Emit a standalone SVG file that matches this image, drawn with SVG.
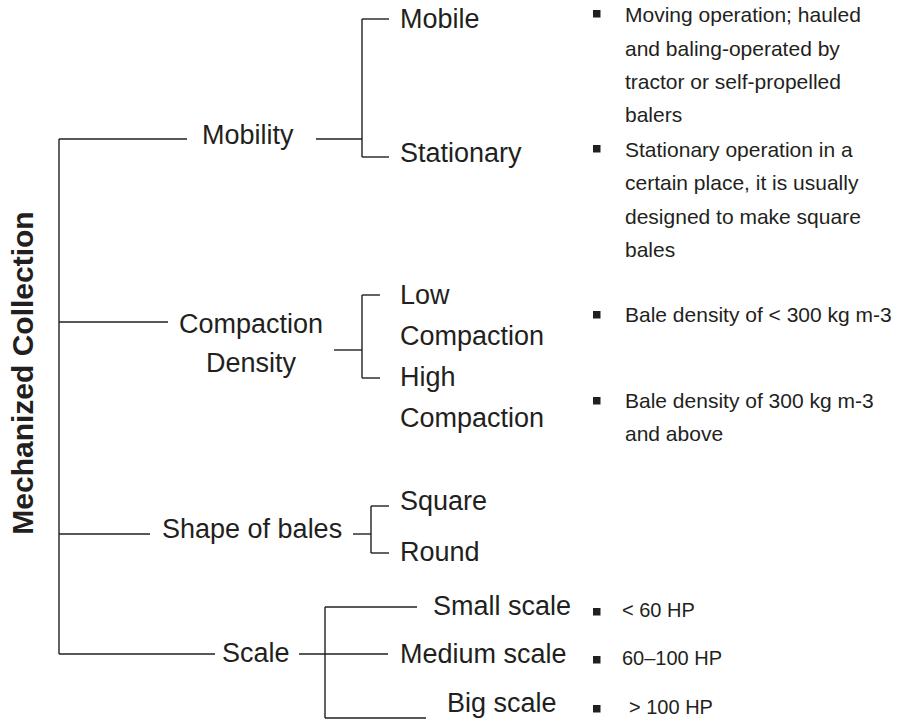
<svg xmlns="http://www.w3.org/2000/svg" width="899" height="726" viewBox="0 0 899 726" font-family="'Liberation Sans', Arial, Helvetica, sans-serif">
<style>
text{font-family:"Liberation Sans",Arial,Helvetica,sans-serif;fill:#231f20}
.lbl{font-size:27px}
.note{font-size:21px}
.hp{font-size:20px}
.title{font-size:30px;font-weight:bold}
.conn line{stroke:#231f20;stroke-width:1.4;fill:none}
.bullet{fill:#231f20}
</style>
<rect width="899" height="726" fill="#ffffff"/>
<g id="connectors" class="conn">
<line x1="59" y1="139" x2="59" y2="654"/>
<line x1="59" y1="139" x2="187" y2="139"/>
<line x1="59" y1="322" x2="168" y2="322"/>
<line x1="59" y1="534" x2="150" y2="534"/>
<line x1="59" y1="654" x2="215" y2="654"/>
<line x1="316" y1="139" x2="362" y2="139"/>
<line x1="362" y1="19" x2="362" y2="157"/>
<line x1="362" y1="19" x2="389" y2="19"/>
<line x1="362" y1="157" x2="389" y2="157"/>
<line x1="334" y1="350" x2="362" y2="350"/>
<line x1="362" y1="295" x2="362" y2="378"/>
<line x1="362" y1="295" x2="380" y2="295"/>
<line x1="362" y1="378" x2="380" y2="378"/>
<line x1="353" y1="534" x2="371" y2="534"/>
<line x1="371" y1="506" x2="371" y2="553"/>
<line x1="371" y1="506" x2="389" y2="506"/>
<line x1="371" y1="553" x2="389" y2="553"/>
<line x1="299" y1="654" x2="388" y2="654"/>
<line x1="325" y1="607" x2="325" y2="718"/>
<line x1="325" y1="607" x2="417" y2="607"/>
<line x1="325" y1="718" x2="426" y2="718"/>
</g>
<g id="root"><text class="title" transform="translate(33,373) rotate(-90)" text-anchor="middle">Mechanized Collection</text></g>
<g id="mobility"><text class="lbl" x="202" y="144">Mobility</text></g>
<g id="compaction"><text class="lbl" x="251" y="333" text-anchor="middle">Compaction</text><text class="lbl" x="251" y="372" text-anchor="middle">Density</text></g>
<g id="shape"><text class="lbl" x="162" y="538">Shape of bales</text></g>
<g id="scale"><text class="lbl" x="222" y="662">Scale</text></g>
<g id="mobile"><text class="lbl" x="400" y="28">Mobile</text></g>
<g id="stationary"><text class="lbl" x="400" y="162">Stationary</text></g>
<g id="low"><text class="lbl" x="400" y="304">Low</text><text class="lbl" x="400" y="345">Compaction</text></g>
<g id="high"><text class="lbl" x="400" y="386">High</text><text class="lbl" x="400" y="427">Compaction</text></g>
<g id="square"><text class="lbl" x="400" y="510">Square</text></g>
<g id="round"><text class="lbl" x="400" y="561">Round</text></g>
<g id="small"><text class="lbl" x="433" y="615">Small scale</text></g>
<g id="medium"><text class="lbl" x="400" y="663">Medium scale</text></g>
<g id="big"><text class="lbl" x="447" y="712">Big scale</text></g>
<g id="note-mobile"><rect class="bullet" x="593" y="10" width="7.5" height="7.5"/>
<text class="note" x="625" y="22">Moving operation; hauled</text>
<text class="note" x="625" y="56">and baling-operated by</text>
<text class="note" x="625" y="89">tractor or self-propelled</text>
<text class="note" x="625" y="122">balers</text></g>
<g id="note-stationary"><rect class="bullet" x="593" y="145" width="7.5" height="7.5"/>
<text class="note" x="625" y="157">Stationary operation in a</text>
<text class="note" x="625" y="190">certain place, it is usually</text>
<text class="note" x="625" y="224">designed to make square</text>
<text class="note" x="625" y="257">bales</text></g>
<g id="note-low"><rect class="bullet" x="593" y="311" width="7.5" height="7.5"/>
<text class="note" x="625" y="322">Bale density of &lt; 300 kg m-3</text></g>
<g id="note-high"><rect class="bullet" x="593" y="397" width="7.5" height="7.5"/>
<text class="note" x="625" y="408">Bale density of 300 kg m-3</text>
<text class="note" x="625" y="441">and above</text></g>
<g id="note-small"><rect class="bullet" x="593" y="608" width="7.5" height="7.5"/>
<text class="hp" x="622" y="617">&lt; 60 HP</text></g>
<g id="note-medium"><rect class="bullet" x="593" y="656" width="7.5" height="7.5"/>
<text class="hp" x="622" y="665">60–100 HP</text></g>
<g id="note-big"><rect class="bullet" x="593" y="705" width="7.5" height="7.5"/>
<text class="hp" x="629" y="714">&gt; 100 HP</text></g>
</svg>
